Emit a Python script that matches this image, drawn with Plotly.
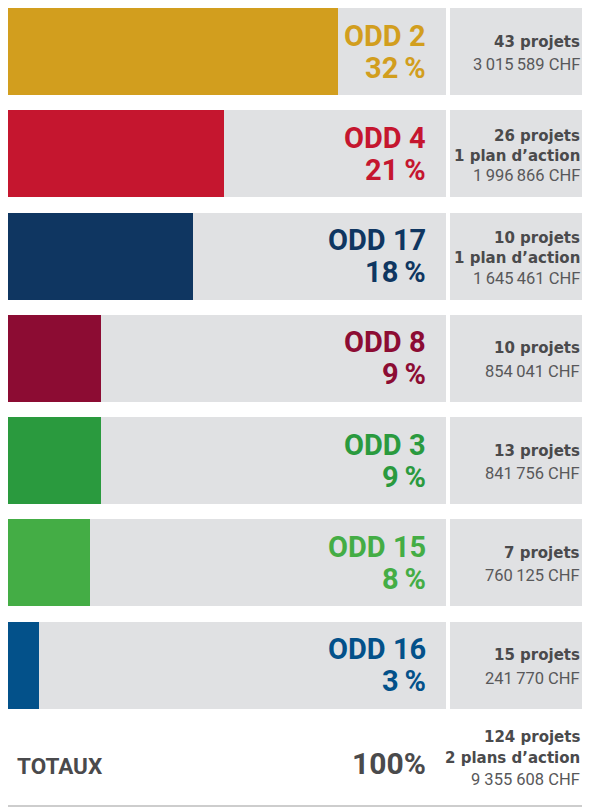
import plotly.graph_objects as go

# ---------------- data ----------------
odd_labels = ["ODD 2", "ODD 4", "ODD 17", "ODD 8", "ODD 3", "ODD 15", "ODD 16"]
pct = [32, 21, 18, 9, 9, 8, 3]
projets = [43, 26, 10, 10, 13, 7, 15]
plans = [0, 1, 1, 0, 0, 0, 0]
montants = [3015589, 1996866, 1645461, 854041, 841756, 760125, 241770]
colors = ["#D29E1E", "#C5162F", "#0F3661", "#8C0C33", "#2A9A3E", "#44AD45", "#03518A"]

total_label = "TOTAUX"
total_pct = "100%"
total_projets = 124
total_plans = 2
total_chf = 9355608

# ---------------- layout constants ----------------
PAGE_W, PAGE_H = 590, 807
OFF = 8                      # page body margin of the html page
W, H = PAGE_W - OFF, PAGE_H - OFF
PX = 10.3                    # pixels per percent
ROW0 = 51.5 - OFF            # centre of first row (figure px)
STEP = 102.25                # row pitch (px)
BARW = 87 / STEP             # bar thickness in row units


def xpx(p):
    """page pixel -> x data value"""
    return (p - OFF) / PX


def fmt(n, sep="\u2009"):
    return f"{n:,}".replace(",", sep)


GRAY = "#E0E1E3"
DARK = "#4A4A4C"
MID = "#58585A"
ODD_FONT = "Roboto, sans-serif"
BOLD_FONT = "DejaVu Sans, sans-serif"
REG_FONT = "Roboto, sans-serif"

rows = list(range(len(pct)))

fig = go.Figure()
fig.add_bar(y=rows, x=[xpx(446)] * len(rows), orientation="h", width=BARW,
            marker=dict(color=GRAY, line=dict(width=0)), hoverinfo="skip", showlegend=False)
fig.add_bar(y=rows, x=[(590 - 450) / PX] * len(rows), base=xpx(450), orientation="h",
            width=BARW, marker=dict(color=GRAY, line=dict(width=0)), hoverinfo="skip",
            showlegend=False)
fig.add_bar(y=rows, x=pct, orientation="h", width=BARW,
            marker=dict(color=colors, line=dict(width=0)), showlegend=False,
            customdata=odd_labels, hovertemplate="%{customdata}: %{x}%<extra></extra>")

ann = []
XL = xpx(428)
XR = xpx(582)
for i, (lab, p, n, pl, m, c) in enumerate(zip(odd_labels, pct, projets, plans, montants, colors)):
    ann.append(dict(x=XL, y=i, text=lab, xanchor="right", yanchor="middle", yshift=16,
                    font=dict(family=ODD_FONT, size=29, color=c, weight="bold")))
    ann.append(dict(x=XL, y=i, text=f"{p}\u2009%", xanchor="right", yanchor="middle", yshift=-16,
                    font=dict(family=ODD_FONT, size=29, color=c, weight="bold")))
    lines = [(f"{n} projets", True)]
    if pl:
        lines.append((f"{pl} plan{'s' if pl > 1 else ''} d\u2019action", True))
    lines.append((f"{fmt(m)} CHF", False))
    offs = [18, -2, -22] if len(lines) == 3 else [10, -13]
    for (t, b), o in zip(lines, offs):
        if b:
            f = dict(family=BOLD_FONT, size=15, color=DARK, weight="bold")
        else:
            f = dict(family=REG_FONT, size=16.5, color=MID)
        ann.append(dict(x=XR, y=i, text=t, xanchor="right", yanchor="middle", yshift=o, font=f))

# totals row
ty = len(pct)
ann.append(dict(x=xpx(15), y=ty, text=total_label, xanchor="left", yanchor="middle", yshift=1,
                font=dict(family="Roboto", size=22.5, color=DARK, weight="bold")))
ann.append(dict(x=XL, y=ty, text=total_pct, xanchor="right", yanchor="middle", yshift=4,
                font=dict(family=ODD_FONT, size=30, color=DARK, weight="bold")))
for t, b, o in [(f"{total_projets} projets", True, 30),
                (f"{total_plans} plans d\u2019action", True, 9),
                (f"{fmt(total_chf, ' ')} CHF", False, -12)]:
    if b:
        f = dict(family=BOLD_FONT, size=15, color=DARK, weight="bold")
    else:
        f = dict(family=REG_FONT, size=16.5, color=MID)
    ann.append(dict(x=XR, y=ty, text=t, xanchor="right", yanchor="middle", yshift=o, font=f))

for a in ann:
    a.update(xref="x", yref="y", showarrow=False)

line_y = 1 - (806 - OFF) / H
fig.update_layout(
    width=W, height=H,
    margin=dict(l=0, r=0, t=0, b=0),
    paper_bgcolor="white", plot_bgcolor="white",
    barmode="overlay", bargap=0,
    xaxis=dict(range=[0, W / PX], visible=False, fixedrange=True),
    yaxis=dict(range=[(H - ROW0) / STEP, -ROW0 / STEP], visible=False, fixedrange=True),
    annotations=ann,
    shapes=[dict(type="line", xref="x", yref="paper", x0=0, x1=W / PX,
                 y0=line_y, y1=line_y, line=dict(color="#BDBDBD", width=1.5))],
)

fig.write_html("out.html", config={"displayModeBar": False})
